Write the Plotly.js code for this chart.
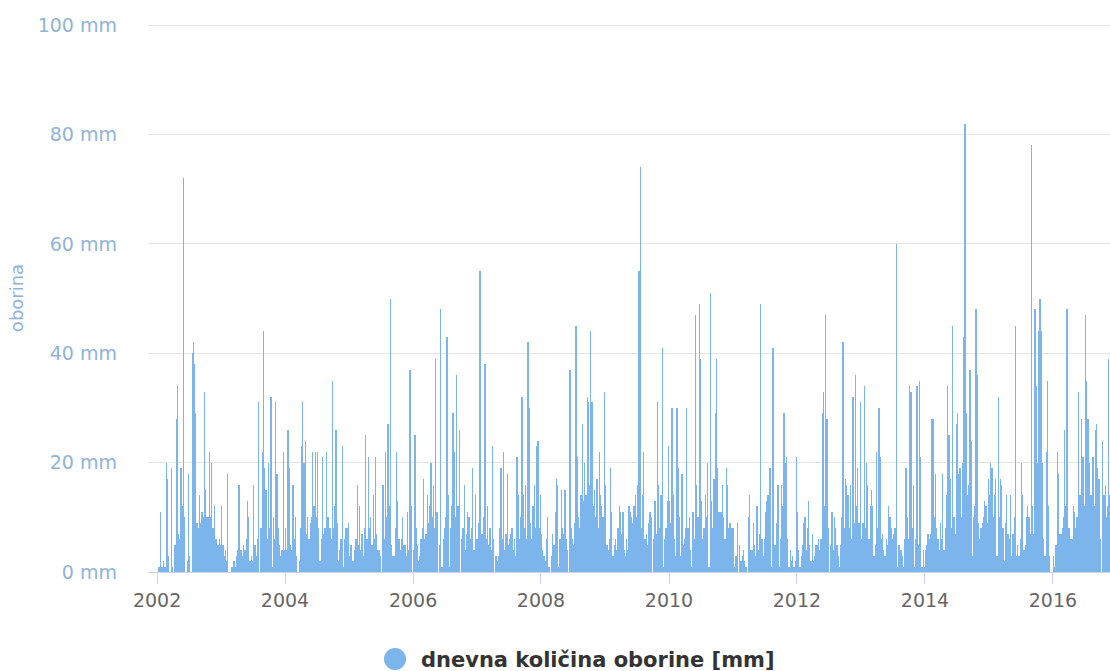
<!DOCTYPE html>
<html>
<head>
<meta charset="utf-8">
<script src="https://cdn.plot.ly/plotly-3.0.1.min.js"></script>
<style>
html,body{margin:0;padding:0;background:#fff;}
#chart{width:1110px;height:671px;}
</style>
</head>
<body>
<div id="chart"></div>
<script>
// Weekly readings (mm) per year
const years = [2002,2003,2004,2005,2006,2007,2008,2009,2010,2011,2012,2013,2014,2015,2016];
const rain2002 = [0,1,11,1,1,2,1,20,17,3,0,19,1,0,5,28,34,7,6,19,12,72,10,0,2,18,3,0,40,42,38,29,9,8,14,9,11,10,33,15,10,10,22,10,20,8,12,6,6,5,6,5];
const rain2003 = [12,5,3,4,2,18,0,0,1,1,2,1,3,4,16,4,4,3,5,4,6,13,10,2,3,2,16,5,3,6,31,0,8,22,44,19,15,6,20,8,32,1,10,6,31,18,8,5,3,4,22,4];
const rain2004 = [8,4,26,19,5,4,16,6,10,3,0,2,8,23,31,20,24,7,10,6,9,10,22,12,22,10,22,8,2,6,21,7,8,22,10,10,8,6,35,8,12,26,9,2,4,6,23,1,6,8,8,9];
const rain2005 = [3,5,2,2,4,6,16,5,12,4,7,3,8,25,6,21,8,10,5,14,6,21,7,4,4,3,0,16,6,22,10,27,12,50,5,3,3,8,22,13,6,4,6,10,5,5,3,11,4,37,12,0];
const rain2006 = [4,25,8,5,2,3,6,8,17,6,7,14,9,12,20,10,16,8,39,11,0,5,48,1,6,8,10,43,14,1,8,12,29,22,10,36,12,26,0,6,8,16,4,7,11,10,6,8,19,4,14,6];
const rain2007 = [6,9,55,7,7,10,38,6,12,5,8,4,23,6,0,3,2,3,8,19,6,22,4,7,18,5,6,7,8,4,6,3,21,14,6,10,32,14,8,16,6,42,30,9,6,12,16,8,23,24,8,14];
const rain2008 = [7,4,3,2,6,10,1,0,3,7,5,11,17,16,1,6,15,8,7,15,6,4,0,37,8,6,5,9,45,21,10,8,14,27,13,20,14,32,31,16,44,31,12,15,10,17,8,22,14,12,10,33];
const rain2009 = [16,5,4,6,19,11,3,5,6,4,8,12,11,7,11,4,3,6,4,12,11,10,9,12,14,10,16,55,74,8,14,22,6,7,5,9,11,10,0,6,13,7,31,16,8,14,41,1,6,8,13,23];
const rain2010 = [13,9,30,14,6,3,30,19,10,3,18,5,6,8,30,8,10,4,1,11,6,47,16,10,49,39,13,6,8,14,10,20,1,51,13,8,17,29,39,19,11,11,11,16,10,6,19,16,8,9,8,8];
const rain2011 = [8,1,3,9,0,5,2,3,4,2,1,0,10,14,4,4,9,5,3,12,4,7,49,6,3,6,11,13,14,19,19,1,41,5,5,9,16,1,6,16,12,29,20,21,6,1,4,2,3,1,2,21];
const rain2012 = [11,4,1,3,5,9,10,4,8,13,5,2,7,2,3,5,5,6,4,6,29,33,12,47,28,8,0,5,11,4,10,8,5,3,1,5,10,42,8,17,16,14,8,16,6,32,9,36,12,19,9,31];
const rain2013 = [6,9,34,8,20,16,6,12,15,12,3,5,22,8,30,21,6,7,4,3,6,5,12,10,8,6,7,8,60,1,5,5,4,3,1,6,19,10,6,34,33,8,16,1,6,34,5,35,21,1,4,1];
const rain2014 = [4,5,7,6,7,28,28,10,18,8,6,4,9,6,18,4,8,14,34,25,17,8,45,10,7,27,29,18,19,10,20,43,82,29,14,16,37,24,3,10,12,48,36,9,6,8,9,10,13,12,9,17];
const rain2015 = [14,20,19,10,14,17,3,32,10,17,16,8,2,9,14,7,6,14,3,7,10,45,3,5,3,6,20,14,4,5,10,12,10,7,78,12,7,48,34,20,44,50,44,20,6,3,22,35,12,3,0,0];
const rain2016 = [3,1,5,22,18,7,7,8,10,26,12,48,8,8,6,6,12,11,8,10,33,14,14,28,21,12,47,35,28,20,14,14,21,12,26,27,19,17,6,0,24,14,16,10,12,39,14];
const seriesByYear = [rain2002,rain2003,rain2004,rain2005,rain2006,rain2007,rain2008,rain2009,rain2010,rain2011,rain2012,rain2013,rain2014,rain2015,rain2016];
const seriesName = 'dnevna količina oborine [mm]';
const yTitle = 'oborina';

const DAY = 86400000;
const WEEK = DAY * 365.25 / 52;
const xs = [], ys = [];
years.forEach((yr, k) => {
  seriesByYear[k].forEach((v, i) => {
    xs.push(new Date(Date.UTC(yr, 0, 1) + (i + 0.5) * WEEK).toISOString());
    ys.push(v);
  });
});

const blue = '#7cb5ec';
const trace = {
  type: 'bar',
  x: xs,
  y: ys,
  width: WEEK,
  name: seriesName,
  marker: {color: blue, line: {width: 0}},
  showlegend: false,
  hoverinfo: 'x+y'
};

const layout = {
  width: 1110,
  height: 671,
  margin: {l: 148, r: 0, t: 24, b: 99},
  paper_bgcolor: '#fff',
  plot_bgcolor: '#fff',
  font: {family: 'DejaVu Sans', size: 19, color: '#666'},
  bargap: 0,
  xaxis: {
    type: 'date',
    range: ['2001-11-10', '2016-11-22'],
    tick0: '2002-01-01',
    dtick: 'M24',
    tickformat: '%Y',
    ticks: 'outside',
    ticklen: 11,
    tickwidth: 1,
    tickcolor: '#ccd6eb',
    showgrid: false,
    showline: true,
    linecolor: '#ccd6eb',
    linewidth: 1,
    zeroline: false,
    tickfont: {family: 'DejaVu Sans', size: 19, color: '#666'}
  },
  yaxis: {
    range: [0, 100.2],
    tick0: 0,
    dtick: 20,
    ticksuffix: ' mm',
    showgrid: true,
    gridcolor: '#e6e6e6',
    gridwidth: 1,
    zeroline: false,
    showline: false,
    ticks: '',
    ticklabelstandoff: 30,
    tickfont: {family: 'DejaVu Sans', size: 19, color: '#8fb4d8'},
    title: {text: yTitle, standoff: 9, font: {family: 'DejaVu Sans', size: 18, color: '#8fb4d8'}}
  },
  shapes: [{
    type: 'circle',
    xref: 'paper', yref: 'paper',
    xsizemode: 'pixel', ysizemode: 'pixel',
    xanchor: (395 - 148) / 962, yanchor: (572 - 659) / 548,
    x0: -11, x1: 11, y0: -11, y1: 11,
    fillcolor: blue,
    line: {width: 0}
  }],
  annotations: [{
    xref: 'paper', yref: 'paper',
    x: (419 - 148) / 962, y: (572 - 660) / 548,
    xanchor: 'left', yanchor: 'middle',
    showarrow: false,
    text: '<b>' + seriesName + '</b>',
    font: {family: 'DejaVu Sans', size: 21, color: '#333'}
  }]
};

Plotly.newPlot('chart', [trace], layout, {staticPlot: true, displayModeBar: false});
</script>
</body>
</html>
